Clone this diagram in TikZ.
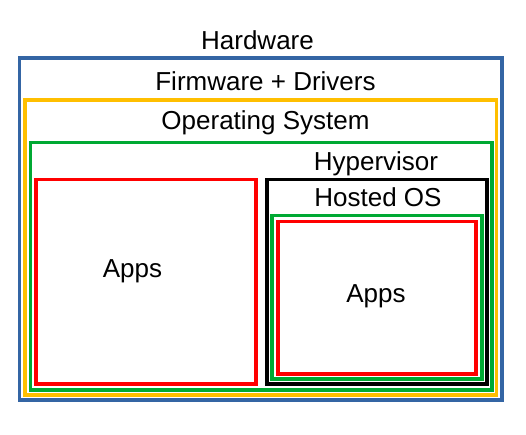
\documentclass[tikz,border=0pt]{standalone}
\usepackage{fontspec}
\setmainfont{Liberation Sans}
\begin{document}
\begin{tikzpicture}[x=1pt,y=-1pt,
  frame/.style={line width=3.2pt},
  lbl/.style={inner sep=0pt,anchor=base,font=\fontsize{26}{30}\selectfont,text=black}]
\definecolor{hwblue}{HTML}{3465A4}
\definecolor{fwyellow}{HTML}{FFBF00}
\definecolor{osgreen}{HTML}{00A933}
\definecolor{appred}{HTML}{FF0000}
\useasboundingbox[fill=white] (0,0) rectangle (526,434);
\draw[frame,hwblue] (19.5,58) rectangle (502,400);
\draw[frame,fwyellow] (25,100) rectangle (496.5,395);
\draw[frame,osgreen] (30.5,142.5) rectangle (492,390);
\draw[frame,appred] (36,179.5) rectangle (256,384);
\draw[frame,black] (267,179.5) rectangle (487,384);
\draw[frame,osgreen] (272,215.5) rectangle (482,379);
\draw[frame,appred] (278,221.5) rectangle (476,374);
\node[lbl] (thw) at (257.5,49.5) {Hardware};
\node[lbl] (tfw) at (265.5,90) {Firmware + Drivers};
\node[lbl] (tos) at (265.5,129.5) {Operating System};
\node[lbl] (thv) at (376,170) {Hypervisor};
\node[lbl] (tho) at (378,206) {Hosted OS};
\node[lbl] (tap1) at (132.5,277.5) {Apps};
\node[lbl] (tap2) at (376,302.5) {Apps};
\end{tikzpicture}
\end{document}
